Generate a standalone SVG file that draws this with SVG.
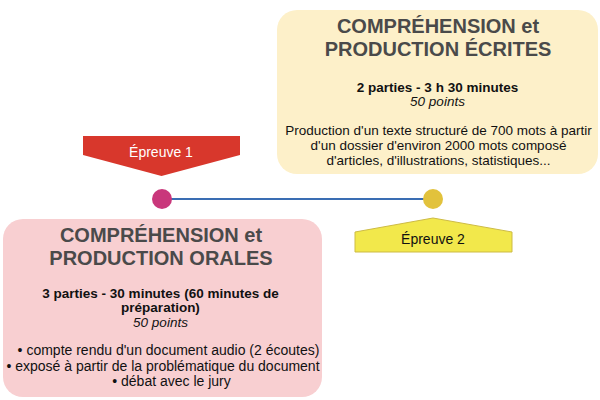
<svg xmlns="http://www.w3.org/2000/svg" width="600" height="400" viewBox="0 0 600 400">
<style>
text{font-family:"Liberation Sans",Arial,Helvetica,sans-serif;text-anchor:middle}
.title{font-size:20px;font-weight:bold;fill:#4a4a4a}
.sub{font-size:13.5px;font-weight:bold;fill:#111}
.pts{font-size:13.5px;font-style:italic;fill:#111}
.body{font-size:13.5px;fill:#111}
.bul{font-size:14px;fill:#111}
.lbl{font-size:14px}
</style>
<rect width="600" height="400" fill="#ffffff"/>
<g id="connectors">
<line x1="162" y1="199" x2="433" y2="199" stroke="#3a6db3" stroke-width="2.2"/>
</g>
<g id="ecrites">
<rect x="277" y="10" width="321" height="164" rx="20" ry="20" fill="#fdf0c9"/>
<text class="title" x="438" y="33">COMPRÉHENSION et</text>
<text class="title" x="438" y="56">PRODUCTION ÉCRITES</text>
<text class="sub" x="437.5" y="92">2 parties - 3 h 30 minutes</text>
<text class="pts" x="437.5" y="106">50 points</text>
<text class="body" x="438.5" y="135">Production d'un texte structuré de 700 mots à partir</text>
<text class="body" x="438.5" y="150">d'un dossier d'environ 2000 mots composé</text>
<text class="body" x="438.5" y="165">d'articles, d'illustrations, statistiques...</text>
</g>
<g id="orales">
<rect x="3" y="219" width="319" height="178" rx="20" ry="20" fill="#f8cfd1"/>
<text class="title" x="161" y="242">COMPRÉHENSION et</text>
<text class="title" x="161" y="265">PRODUCTION ORALES</text>
<text class="sub" x="160.5" y="297.5">3 parties - 30 minutes (60 minutes de</text>
<text class="sub" x="160.5" y="311.5">préparation)</text>
<text class="pts" x="160.5" y="326.5">50 points</text>
<text class="bul" x="168.5" y="355">• compte rendu d'un document audio (2 écoutes)</text>
<text class="bul" x="163" y="370.5">• exposé à partir de la problématique du document</text>
<text class="bul" x="171.5" y="386">• débat avec le jury</text>
</g>
<g id="epreuve1">
<polygon points="83,136 240,136 240,155 161.5,176 83,155" fill="#d8372c"/>
<text class="lbl" x="161" y="156.5" fill="#ffffff">Épreuve 1</text>
</g>
<g id="epreuve2">
<polygon points="355,232 433,218 512,232 512,252 355,252" fill="#f2e84b" stroke="#cdbb45" stroke-width="1"/>
<text class="lbl" x="433" y="243.5" fill="#111">Épreuve 2</text>
</g>
<g id="dot1">
<circle cx="162" cy="199" r="10" fill="#c9377b"/>
</g>
<g id="dot2">
<circle cx="433" cy="199" r="10" fill="#e2c23c"/>
</g>
</svg>
